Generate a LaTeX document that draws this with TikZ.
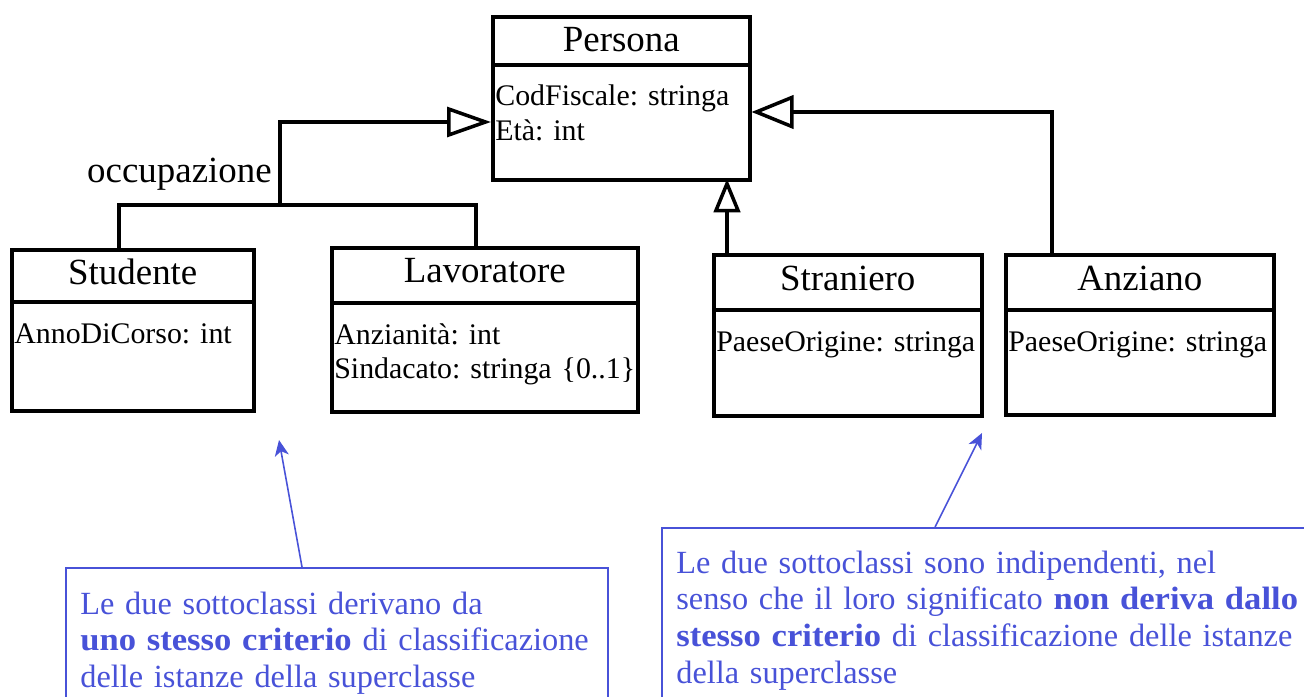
\documentclass[tikz,border=0pt]{standalone}
\usepackage{fontspec}
\setmainfont{Liberation Serif}
\frenchspacing
\usetikzlibrary{arrows.meta,calc}
\definecolor{noteblue}{RGB}{72,82,216}
\newcommand{\pxlen}{0.2mm}
\newcommand{\keyword}[1]{\textbf{\addfontfeature{FakeStretch=1.07}#1}}
\tikzset{
  classbox/.style={draw=black, line width=2pt, inner sep=0pt, fill=white},
  divider/.style={line width=2pt},
  classname/.style={font=\fontsize{21}{25}\selectfont, inner sep=0pt, anchor=base},
  attrs/.style={font=\fontsize{17}{19.9}\selectfont, inner sep=0pt,
    anchor=base west, align=left},
  link/.style={line width=2pt},
  gen/.style 2 args={line width=2pt, -{Triangle[open, length=#1, width=#2]}},
  notebox/.style={draw=noteblue, line width=1.1pt, inner sep=0pt, anchor=north west},
  notetext/.style={text=noteblue, font=\fontsize{18.4}{21}\selectfont,
    inner sep=0pt, anchor=base west, align=left},
  notearrow/.style={draw=noteblue, line width=0.9pt,
    -{Stealth[length=9pt, width=8pt, inset=2.5pt]}}
}
% name, left, top, width, height, divider offset, title, attributes
\newcommand{\umlclass}[8]{
  \node[classbox, minimum width=#4*\pxlen, minimum height=#5*\pxlen,
    anchor=north west] (#1) at (#2,#3) {};
  \draw[divider] ($(#1.north west)+(0,#6)$) -- ($(#1.north east)+(0,#6)$);
  \node[classname] (#1-name) at ($(#1.north)+(0,37)$) {#7};
  \node[attrs, text width=#4*\pxlen] (#1-attrs) at ($(#1.north west)+(4,#6+41)$) {#8};
}

\begin{document}
\begin{tikzpicture}[x=\pxlen, y=-\pxlen]
  \useasboundingbox (0,0) rectangle (1304,697);
  \clip (0,0) rectangle (1304,697);

  % classes
  \umlclass{persona}{491}{15}{257}{163}{50}{Persona}{CodFiscale: stringa\\Età: int}
  \umlclass{stud}{10}{248}{242}{161}{54}{Studente}{AnnoDiCorso: int}
  \umlclass{lav}{330}{246}{306}{164}{57}{Lavoratore}{Anzianità: int\\Sindacato: stringa \{0..1\}}
  \umlclass{stra}{712}{253}{268}{161}{57}{Straniero}{PaeseOrigine: stringa}
  \umlclass{anz}{1004}{253}{268}{160}{57}{Anziano}{PaeseOrigine: stringa}

  % generalizations
  \coordinate (jl) at (119,205);
  \coordinate (jr) at (476,205);
  \coordinate (occ) at (280,205);
  \coordinate (lbend) at (280,122);
  \coordinate (rbend) at (1052,112);
  \coordinate (sbend) at (727,0);
  \draw[link] (jl |- stud.north) -- (jl) -- (jr) -- (jr |- lav.north);
  \draw[gen={25pt}{17pt}] (occ) -- (lbend) -- (lbend -| persona.west);
  \draw[gen={24pt}{19pt}] (rbend |- anz.north) -- (rbend) -- (rbend -| persona.east);
  \draw[gen={19pt}{15pt}, shorten >=-1.5pt] (sbend |- stra.north) -- (sbend |- persona.south);
  \node[font=\fontsize{21}{25}\selectfont, inner sep=0pt, anchor=base east]
    (occlabel) at (272,183) {occupazione};

  % notes
  \node[notebox, minimum width=542*\pxlen, minimum height=200*\pxlen] (noteL) at (65,567) {};
  \node[notetext, text width=600*\pxlen] (noteLtext) at (80,614)
    {Le due sottoclassi derivano da\\
     \keyword{uno stesso criterio} di classificazione\\
     delle istanze della superclasse};
  \node[notebox, minimum width=700*\pxlen, minimum height=250*\pxlen] (noteR) at (661,527) {};
  \node[notetext, text width=700*\pxlen] (noteRtext) at (676,573)
    {Le due sottoclassi sono indipendenti, nel\\
     senso che il loro significato \keyword{non deriva dallo}\\
     \keyword{stesso criterio} di classificazione delle istanze\\
     della superclasse};
  \coordinate (tipL) at (279,440);
  \coordinate (tipR) at (982,433);
  \draw[notearrow] ($(noteL.north west)+(237,0)$) -- (tipL);
  \draw[notearrow] ($(noteR.north west)+(274,0)$) -- (tipR);

\end{tikzpicture}
\end{document}
